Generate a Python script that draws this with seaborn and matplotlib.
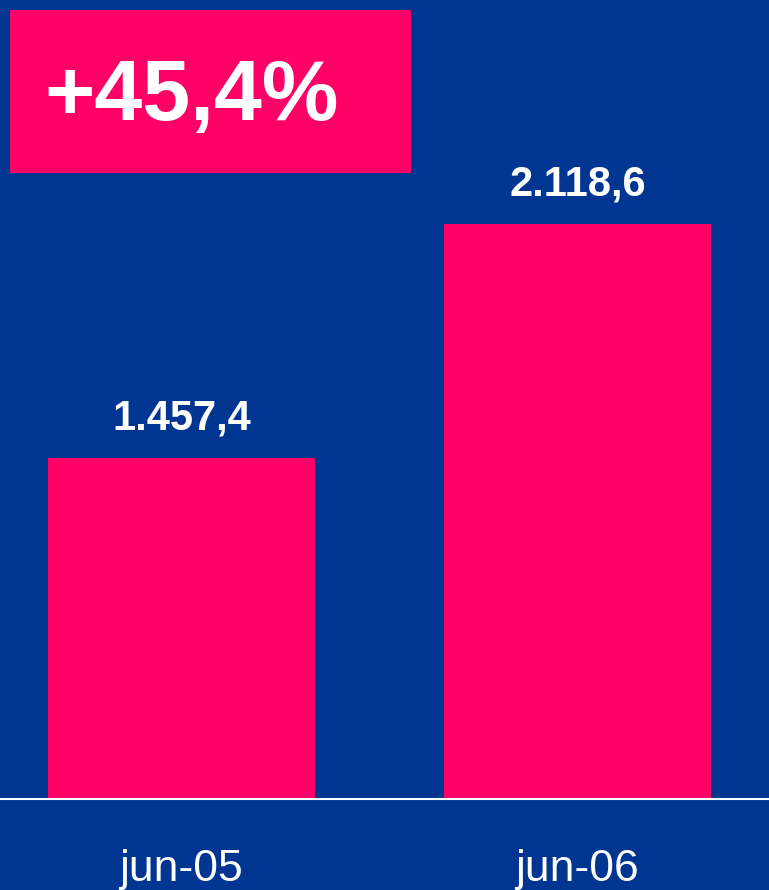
import pandas as pd
import numpy as np
import matplotlib.pyplot as plt
import seaborn as sns
from matplotlib.patches import Rectangle

months = ["jun-05", "jun-06"]
values = [1457.4, 2118.6]
value_labels = ["1.457,4", "2.118,6"]
growth_label = "+45,4%"

blue = "#003591"
pink = "#FF0066"

sns.set_theme(style="white")
plt.rcParams['font.family'] = ['Liberation Sans', 'DejaVu Sans']

df = pd.DataFrame({"month": months, "value": values})

fig = plt.figure(figsize=(7.69, 8.90), dpi=100, facecolor=blue)
ax = fig.add_axes([0, 0.1022, 1, 0.8978])
ax.set_facecolor(blue)

sns.barplot(data=df, x="month", y="value", color=pink, saturation=1, width=0.674,
            linewidth=0, edgecolor="none", ax=ax)

ax.set_xlim(-0.458, 1.484)
ax.set_ylim(494, 2752)
ax.set_xlabel("")
ax.set_ylabel("")
ax.set_yticks([])

for s in ["top", "left", "right"]:
    ax.spines[s].set_visible(False)
ax.spines["bottom"].set_color("white")
ax.spines["bottom"].set_linewidth(1.5)

ax.tick_params(axis="x", length=0, pad=36, labelcolor="white", labelsize=32)

for i, (v, t) in enumerate(zip(values, value_labels)):
    ax.annotate(t, (i, v), xytext=(0, 14), textcoords="offset points",
                ha="center", va="bottom", color="white", fontsize=30, fontweight="bold")

fig.patches.append(Rectangle((0.013, 0.8056), 0.5215, 0.1831, transform=fig.transFigure,
                             facecolor=pink, edgecolor="none", zorder=3))
fig.text(0.2497, 0.8896, growth_label, ha="center", va="center", color="white",
         fontsize=62, fontweight="bold", zorder=4)

plt.savefig("out.png", dpi=100, facecolor=blue)
